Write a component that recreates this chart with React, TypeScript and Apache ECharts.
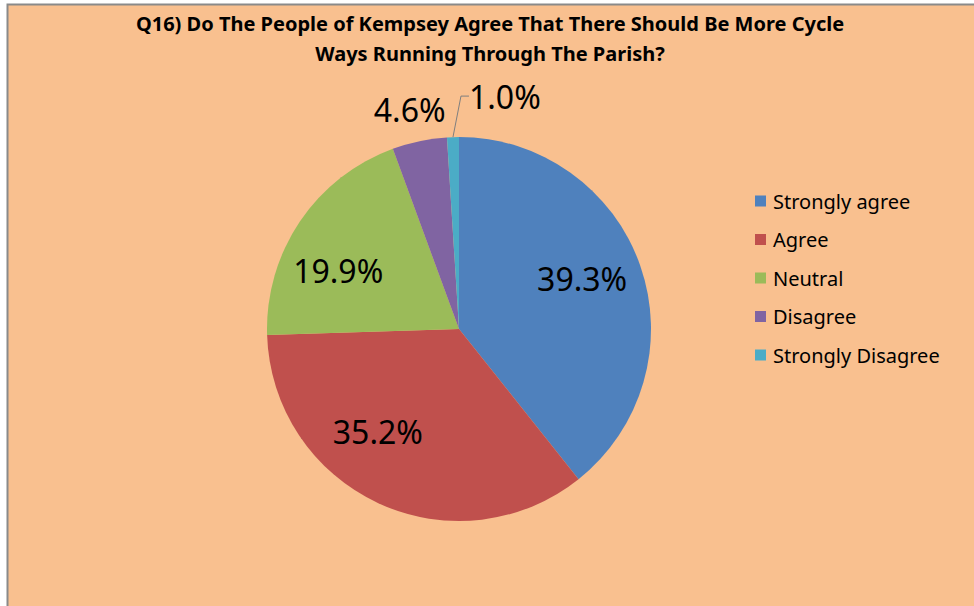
import React, { useEffect, useRef } from "react";
import * as echarts from "echarts";

const categories = ["Strongly agree", "Agree", "Neutral", "Disagree", "Strongly Disagree"];
const values = [39.3, 35.2, 19.9, 4.6, 1.0];
const colors = ["#4F81BD", "#C0504D", "#9BBB59", "#8064A2", "#4BACC6"];
const titleLines = [
  "Q16) Do The People of Kempsey Agree That There Should Be More Cycle",
  "Ways Running Through The Parish?",
];

const CX = 459;
const CY = 329;
const R = 192;
// small nudges of each label, like Excel's best-fit placement
const labelNudge = [
  [-3, -6],
  [-25, -19],
  [-10, 16],
  [29, -18],
  [0, 0],
];

export default function App() {
  const ref = useRef<HTMLDivElement>(null);
  useEffect(() => {
    if (!ref.current) return;
    const chart = echarts.init(ref.current, undefined, { renderer: "svg" });
    const font = "'Noto Sans', sans-serif";
    chart.setOption({
      animation: false,
      graphic: [
        {
          type: "rect",
          z: -10,
          shape: { x: 7.5, y: 4.5, width: 990, height: 620 },
          style: { fill: "#F9C08F", stroke: "#8A8A8A", lineWidth: 2 },
          silent: true,
        },
      ],
      title: {
        text: titleLines.join("\n"),
        left: 490,
        top: 8,
        padding: 0,
        textAlign: "center",
        textStyle: {
          fontFamily: font,
          fontWeight: "bold",
          fontSize: 20,
          lineHeight: 30,
          color: "#000",
        },
      },
      legend: {
        orient: "vertical",
        left: 755,
        top: 190,
        padding: 0,
        itemWidth: 11,
        itemHeight: 11,
        itemGap: 16.5,
        icon: "rect",
        textStyle: { fontFamily: font, fontSize: 20, color: "#000", lineHeight: 22, padding: [0, 0, 0, 2] },
        data: categories,
      },
      series: [
        {
          type: "pie",
          center: [CX, CY],
          radius: R,
          startAngle: 90,
          clockwise: true,
          avoidLabelOverlap: false,
          itemStyle: { borderWidth: 0 },
          label: {
            fontFamily: font,
            fontSize: 32,
            color: "#000",
            formatter: (p: any) => p.value.toFixed(1) + "%",
          },
          labelLine: { lineStyle: { color: "#7F7F7F", width: 1 } },
          labelLayout: (params: any) => {
            const i = params.dataIndex;
            const r = params.labelRect;
            const lx = r.x + r.width / 2;
            const ly = r.y + r.height / 2;
            if (i <= 2) {
              const k = 1.35;
              return {
                x: CX + (lx - CX) * k + labelNudge[i][0],
                y: CY + (ly - CY) * k + labelNudge[i][1],
              };
            }
            if (i === 3) {
              return { x: lx + labelNudge[i][0], y: ly + labelNudge[i][1], align: "center", verticalAlign: "middle" };
            }
            const p0 = params.labelLinePoints ? params.labelLinePoints[0] : [CX, CY - R];
            return { x: p0[0] + 16, y: p0[1] - 41, align: "left", verticalAlign: "middle" };
          },
          data: categories.map((name, i) => {
            const base: any = { name, value: values[i], itemStyle: { color: colors[i] } };
            if (i <= 2) {
              base.label = { position: "inside" };
            } else if (i === 3) {
              base.label = { position: "outside", distanceToLabelLine: 0 };
              base.labelLine = { show: false, length: 14, length2: 0 };
            } else {
              base.label = { position: "outside", distanceToLabelLine: 2 };
              base.labelLine = { show: true, length: 30, length2: 8 };
            }
            return base;
          }),
        },
      ],
    });
    return () => chart.dispose();
  }, []);
  return (
    <div
      ref={ref}
      style={{ position: "fixed", left: 0, top: 0, width: 974, height: 606, background: "#fff" }}
    />
  );
}
